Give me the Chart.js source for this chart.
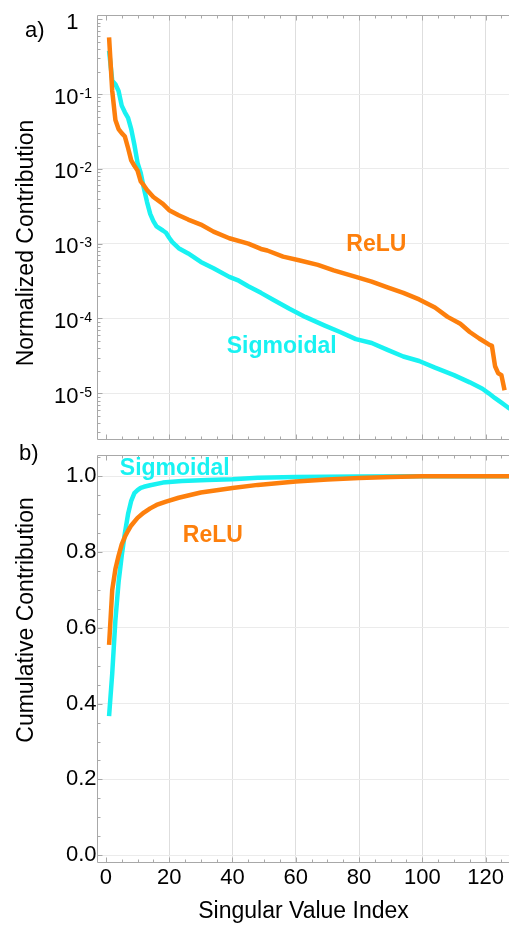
<!DOCTYPE html>
<html><head><meta charset="utf-8">
<script src="https://cdn.jsdelivr.net/npm/chart.js@4"></script>
<style>
html,body{margin:0;padding:0;background:#fff;overflow:hidden;width:509px;height:927px;}
canvas{position:absolute;left:0;}
#c1{top:0;}
#c2{top:441px;}
</style></head><body>
<canvas id="c1" width="509" height="441"></canvas>
<canvas id="c2" width="509" height="486"></canvas>
<script>
// ---------------- data ----------------
const xTickValues = [0, 20, 40, 60, 80, 100, 120];
const logDecades = [1, 1e-1, 1e-2, 1e-3, 1e-4, 1e-5];
const logLabelsBase = ['1', '10', '10', '10', '10', '10'];
const logLabelsExp = ['', '-1', '-2', '-3', '-4', '-5'];
const cumTickValues = [0, 0.2, 0.4, 0.6, 0.8, 1.0];

// a) normalized contribution
const sigIdx  = [1,2,3,4,5,6,7,8,9,10,11,12,13,14,15,16,18,19,20,21,23,26,30,34,39,42,45,49,53,58,63,69,74,79,84,89,94,99,104,110,115,119,121,123,125,127,128];
const sigNorm = [0.38,0.15,0.135,0.11,0.07,0.057,0.048,0.034,0.021,0.012,0.0088,0.0055,0.0036,0.0025,0.002,0.0017,0.0015,0.0014,0.0012,0.00105,8.7e-4,7.4e-4,5.7e-4,4.7e-4,3.6e-4,3.2e-4,2.7e-4,2.2e-4,1.77e-4,1.35e-4,1.05e-4,8.1e-5,6.6e-5,5.3e-5,4.7e-5,3.8e-5,3.1e-5,2.7e-5,2.2e-5,1.75e-5,1.4e-5,1.15e-5,1.0e-5,8.6e-6,7.5e-6,6.5e-6,6.1e-6];
const reluIdx  = [1,2,3,4,5,6,7,8,9,10,11,12,13,15,18,20,23,26,30,34,39,45,49,51,56,61,67,72,79,84,89,94,99,104,108,112,115,118,121,122,123,124,125,126];
const reluNorm = [0.57,0.11,0.045,0.034,0.03,0.027,0.019,0.013,0.011,0.0095,0.0068,0.006,0.0052,0.0042,0.0034,0.0028,0.0024,0.0021,0.0018,0.00145,0.00118,0.001,8.5e-4,8.1e-4,6.7e-4,6.0e-4,5.2e-4,4.4e-4,3.6e-4,3.1e-4,2.6e-4,2.2e-4,1.8e-4,1.4e-4,1.05e-4,8.5e-5,6.6e-5,5.4e-5,4.5e-5,4.3e-5,2.3e-5,1.85e-5,1.75e-5,1.1e-5];

// b) cumulative contribution
const sigCumIdx = [1,2,3,4,5,6,7,8,9,10,11,12,14,18,24,32,40,48,60,80,100,128];
const sigCum    = [0.367,0.48,0.62,0.72,0.79,0.85,0.9,0.935,0.955,0.963,0.969,0.972,0.976,0.983,0.987,0.99,0.992,0.996,0.998,0.999,1.0,1.0];
const reluCumIdx = [1,2,3,4,5,6,7,8,10,12,14,16,19,23,30,40,48,60,70,80,90,100,110,128];
const reluCum    = [0.555,0.7,0.755,0.79,0.82,0.84,0.856,0.87,0.89,0.904,0.915,0.924,0.933,0.943,0.957,0.969,0.977,0.986,0.991,0.995,0.998,0.9995,1.0,1.0];

// ---------------- style ----------------
const FONT = "'Liberation Sans', Arial, Helvetica, sans-serif";
const CYAN = '#18f2f2';
const ORANGE = '#fd7f0c';
const FRAME = '#a8a8a8';
const VGRID = '#dedede';
const HGRID = '#ebebeb';
Chart.defaults.font.family = FONT;
Chart.defaults.color = '#000';

function pts(xs, ys){ return xs.map((x,i)=>({x:x, y:ys[i]})); }
function lineDs(label, data, color){
  return {label, data, borderColor: color, backgroundColor: color, borderWidth: 4.5,
          pointRadius: 0, fill: false, tension: 0, borderJoinStyle: 'round', borderCapStyle: 'butt'};
}

function framePlugin(isLog){
  return {
    id: 'frame',
    beforeDatasetsDraw(chart){
      const {ctx, chartArea: a, scales: {x, y}} = chart;
      ctx.save();
      ctx.strokeStyle = FRAME; ctx.lineWidth = 1;
      const L = Math.round(a.left) - 0.5, T = Math.round(a.top) - 0.5, B = Math.round(a.bottom) + 0.5;
      ctx.beginPath();
      ctx.moveTo(L, T); ctx.lineTo(a.right + 2, T);
      ctx.moveTo(L, B); ctx.lineTo(a.right + 2, B);
      ctx.moveTo(L, T); ctx.lineTo(L, B);
      for (let v = 0; v <= x.max; v += 5){
        const px = Math.round(x.getPixelForValue(v)) + 0.5;
        const len = (v % 20 === 0) ? 5 : 3;
        ctx.moveTo(px, T); ctx.lineTo(px, T + len);
        ctx.moveTo(px, B); ctx.lineTo(px, B - len);
      }
      if (isLog){
        for (let d = -6; d <= 0; d++){
          for (let k = 1; k <= 9; k++){
            const v = k * Math.pow(10, d);
            if (v < y.min || v > y.max) continue;
            const py = Math.round(y.getPixelForValue(v)) + 0.5;
            const len = k === 1 ? 5 : 3;
            ctx.moveTo(L, py); ctx.lineTo(L + len, py);
          }
        }
      } else {
        for (let i = 0; i <= 21; i++){
          const v = i * 0.05;
          if (v > y.max) continue;
          const py = Math.round(y.getPixelForValue(v)) + 0.5;
          const len = (i % 4 === 0) ? 5 : 3;
          ctx.moveTo(L, py); ctx.lineTo(L + len, py);
        }
      }
      ctx.stroke();
      ctx.restore();
    }
  };
}

function textPlugin(opts){
  return {
    id: 'texts',
    afterDraw(chart){
      const {ctx, chartArea: a, scales: {x, y}} = chart;
      ctx.save();
      if (opts.logLabels){
        logDecades.forEach((v, i) => {
          const py = y.getPixelForValue(v);
          ctx.fillStyle = '#000';
          ctx.textAlign = 'right'; ctx.textBaseline = 'alphabetic';
          ctx.font = '22px ' + FONT;
          ctx.fillText(logLabelsBase[i], 78.5, py + 9.5);
          if (logLabelsExp[i]){
            ctx.textAlign = 'left';
            ctx.font = '14px ' + FONT;
            ctx.fillText(logLabelsExp[i], 79.5, py + 3.5);
          }
        });
      }
      ctx.fillStyle = '#000';
      ctx.font = '22px ' + FONT;
      ctx.textAlign = 'left'; ctx.textBaseline = 'middle';
      ctx.fillText(opts.panel, opts.panelX, opts.panelY);
      ctx.save();
      ctx.translate(33, opts.titleY);
      ctx.rotate(-Math.PI / 2);
      ctx.font = '23px ' + FONT;
      ctx.textAlign = 'center'; ctx.textBaseline = 'alphabetic';
      ctx.fillText(opts.yTitle, 0, 0);
      ctx.restore();
      ctx.font = 'bold 23px ' + FONT;
      ctx.textAlign = 'left'; ctx.textBaseline = 'middle';
      opts.seriesLabels.forEach(s => {
        ctx.fillStyle = s.color;
        ctx.fillText(s.text, x.getPixelForValue(s.x), y.getPixelForValue(s.y));
      });
      ctx.restore();
    }
  };
}

const xCommon = {
  type: 'linear', min: -2.5, max: 127.4,
  afterBuildTicks: s => { s.ticks = xTickValues.map(v => ({value: v})); },
  grid: { color: c => (c.tick && c.tick.value === 0) ? 'rgba(0,0,0,0)' : VGRID, drawTicks: false, lineWidth: 1 },
  border: { display: false }
};

new Chart(document.getElementById('c1'), {
  type: 'line',
  data: { datasets: [ lineDs('ReLU', pts(reluIdx, reluNorm), ORANGE), lineDs('Sigmoidal', pts(sigIdx, sigNorm), CYAN) ] },
  options: {
    responsive: false, animation: false, devicePixelRatio: 1,
    layout: { padding: { left: 0, right: 0, top: 16, bottom: 2 } },
    plugins: { legend: { display: false }, tooltip: { enabled: false } },
    scales: {
      x: Object.assign({}, xCommon, { ticks: { display: false }, afterFit: s => { s.height = 0; } }),
      y: {
        type: 'logarithmic', min: 2.45e-6, max: 1.104,
        afterBuildTicks: s => { s.ticks = logDecades.map(v => ({value: v})); },
        ticks: { display: false },
        grid: { color: c => (c.tick && c.tick.value === 1) ? 'rgba(0,0,0,0)' : HGRID, drawTicks: false },
        border: { display: false },
        afterFit: s => { s.width = 98; }
      }
    }
  },
  plugins: [ framePlugin(true), textPlugin({
    logLabels: true, panel: 'a)', panelX: 25, panelY: 31,
    yTitle: 'Normalized Contribution', titleY: 243,
    seriesLabels: [ {text: 'ReLU', x: 76, y: 9.6e-4, color: ORANGE}, {text: 'Sigmoidal', x: 38.2, y: 4.2e-5, color: CYAN} ]
  }) ]
});

new Chart(document.getElementById('c2'), {
  type: 'line',
  data: { datasets: [ lineDs('ReLU', pts(reluCumIdx, reluCum), ORANGE), lineDs('Sigmoidal', pts(sigCumIdx, sigCum), CYAN) ] },
  options: {
    responsive: false, animation: false, devicePixelRatio: 1,
    layout: { padding: { left: 0, right: 0, top: 0.7, bottom: 0 } },
    plugins: { legend: { display: false }, tooltip: { enabled: false } },
    scales: {
      x: Object.assign({}, xCommon, {
        ticks: { display: true, autoSkip: false, maxRotation: 0, padding: 2, font: { size: 22, lineHeight: 1.2 }, color: '#000' },
        title: { display: true, text: 'Singular Value Index', font: { size: 23, lineHeight: 1.2 }, color: '#000', padding: { top: 0, bottom: 1.5 } },
        afterFit: s => { s.height = 64.7; }
      }),
      y: {
        type: 'linear', min: -0.0186, max: 1.054,
        afterBuildTicks: s => { s.ticks = cumTickValues.map(v => ({value: v})); },
        ticks: { display: true, padding: 1.5, font: { size: 22 }, color: '#000', callback: v => v.toFixed(1) },
        grid: { color: HGRID, drawTicks: false },
        border: { display: false },
        afterFit: s => { s.width = 98; }
      }
    }
  },
  plugins: [ framePlugin(false), textPlugin({
    logLabels: false, panel: 'b)', panelX: 19, panelY: 13,
    yTitle: 'Cumulative Contribution', titleY: 179,
    seriesLabels: [ {text: 'Sigmoidal', x: 4.4, y: 1.02, color: CYAN}, {text: 'ReLU', x: 24.3, y: 0.842, color: ORANGE} ]
  }) ]
});
</script>
</body></html>
